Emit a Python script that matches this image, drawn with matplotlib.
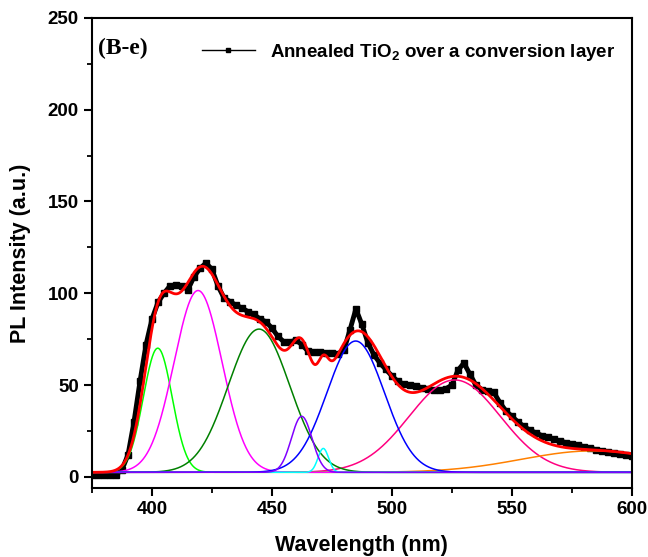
import numpy as np
import matplotlib
matplotlib.use('Agg')
import matplotlib.pyplot as plt
from matplotlib.lines import Line2D

plt.rcParams['font.family'] = ['Liberation Sans', 'DejaVu Sans']
plt.rcParams['mathtext.fontset'] = 'custom'
plt.rcParams['mathtext.bf'] = 'Liberation Sans:bold'
plt.rcParams['mathtext.rm'] = 'Liberation Sans:bold'

wavelength = [375, 377.5, 380, 382.5, 385, 387.5, 390, 392.5, 395, 397.5,
              400, 402.5, 405, 407.5, 410, 412.5, 415, 417.5, 420, 422.5,
              425, 427.5, 430, 432.5, 435, 437.5, 440, 442.5, 445, 447.5,
              450, 452.5, 455, 457.5, 460, 462.5, 465, 467.5, 470, 472.5,
              475, 477.5, 480, 482.5, 485, 487.5, 490, 492.5, 495, 497.5,
              500, 502.5, 505, 507.5, 510, 512.5, 515, 517.5, 520, 522.5,
              525, 527.5, 530, 532.5, 535, 537.5, 540, 542.5, 545, 547.5,
              550, 552.5, 555, 557.5, 560, 562.5, 565, 567.5, 570, 572.5,
              575, 577.5, 580, 582.5, 585, 587.5, 590, 592.5, 595, 597.5, 600]
intensity = [1.0, 1.0, 1.0, 1.0, 1.2, 4, 12, 30, 52, 72,
             86, 95, 100, 104, 104.5, 104, 102, 109, 113.5, 116.5,
             113, 104, 97.5, 95.5, 93.5, 92, 90, 88.5, 86, 84.5,
             81, 76.5, 73.5, 73.5, 74.5, 72, 68.5, 68, 68, 67.5,
             67.5, 67, 69, 80, 91.5, 83, 73, 66.5, 62, 58.5,
             55, 52, 50.5, 50, 49.5, 48.5, 48, 47.5, 47.5, 48,
             50, 58, 62, 56, 50, 47.5, 47, 46, 40.5, 36,
             33, 30, 27.5, 25.5, 24, 22.5, 21.5, 20.5, 19.5, 18.7,
             18, 17.2, 16.5, 15.8, 14.8, 14, 13.3, 12.8, 12.3, 11.8, 11.3]

# Gaussian fit components
baseline = 2.5
peak_centers = [402.4, 419.2, 444.6, 462.4, 471.4, 484.9, 526.2, 584]
peak_amps = [67.6, 99, 78, 30.5, 13, 71.5, 50.3, 11.7]
peak_sigmas = [6.0, 10.0, 12.8, 4.3, 2.2, 12.0, 19.0, 30]
peak_colors = ['#00FF00', '#FF00FF', '#008000', '#8000FF', '#00FFFF',
               '#0000FF', '#FF0080', '#FF8000']

x = np.linspace(375, 600, 1200)
comps = [a * np.exp(-0.5 * ((x - c) / s) ** 2)
         for c, a, s in zip(peak_centers, peak_amps, peak_sigmas)]
fit = baseline + np.sum(comps, axis=0)

fig = plt.figure(figsize=(6.48, 5.57), dpi=100)
ax = fig.add_axes([0.142, 0.124, 0.833, 0.844])

ax.plot(wavelength, intensity, color='black', marker='s', markersize=4.5,
        linewidth=3.5)

order = [6, 7, 0, 1, 2, 4, 5, 3]
for i in order:
    ax.plot(x, baseline + comps[i], color=peak_colors[i], linewidth=1.1)
ax.plot(x, fit, color='#FF0000', linewidth=2)

ax.set_xlim(375, 600)
ax.set_ylim(-6, 250)
ax.set_xticks([400, 450, 500, 550, 600])
ax.set_xticks(np.arange(375, 601, 25), minor=True)
ax.set_yticks([0, 50, 100, 150, 200, 250])
ax.set_yticks(np.arange(0, 251, 25), minor=True)
ax.tick_params(which='major', direction='out', length=6, width=1.5,
               labelsize=13.5)
ax.tick_params(which='minor', direction='out', length=3.5, width=1.3)
for lab in ax.get_xticklabels() + ax.get_yticklabels():
    lab.set_fontweight('bold')
for sp in ax.spines.values():
    sp.set_linewidth(1.5)

ax.set_xlabel('Wavelength (nm)', fontsize=15.5, fontweight='bold', labelpad=12)
ax.set_ylabel('PL Intensity (a.u.)', fontsize=15.5, fontweight='bold', labelpad=12)

ax.text(0.012, 0.935, '(B-e)', transform=ax.transAxes, fontsize=17,
        fontweight='bold', family='Liberation Serif', va='center')

handle = Line2D([], [], color='black', marker='s', markersize=2.5, linewidth=1)
ax.legend([handle], [r'Annealed TiO$_{2}$ over a conversion layer'],
          loc='upper right', bbox_to_anchor=(1.0, 0.985), frameon=False,
          prop={'weight': 'bold', 'size': 13.5}, handlelength=2.8)

fig.savefig('out.png', dpi=100)
